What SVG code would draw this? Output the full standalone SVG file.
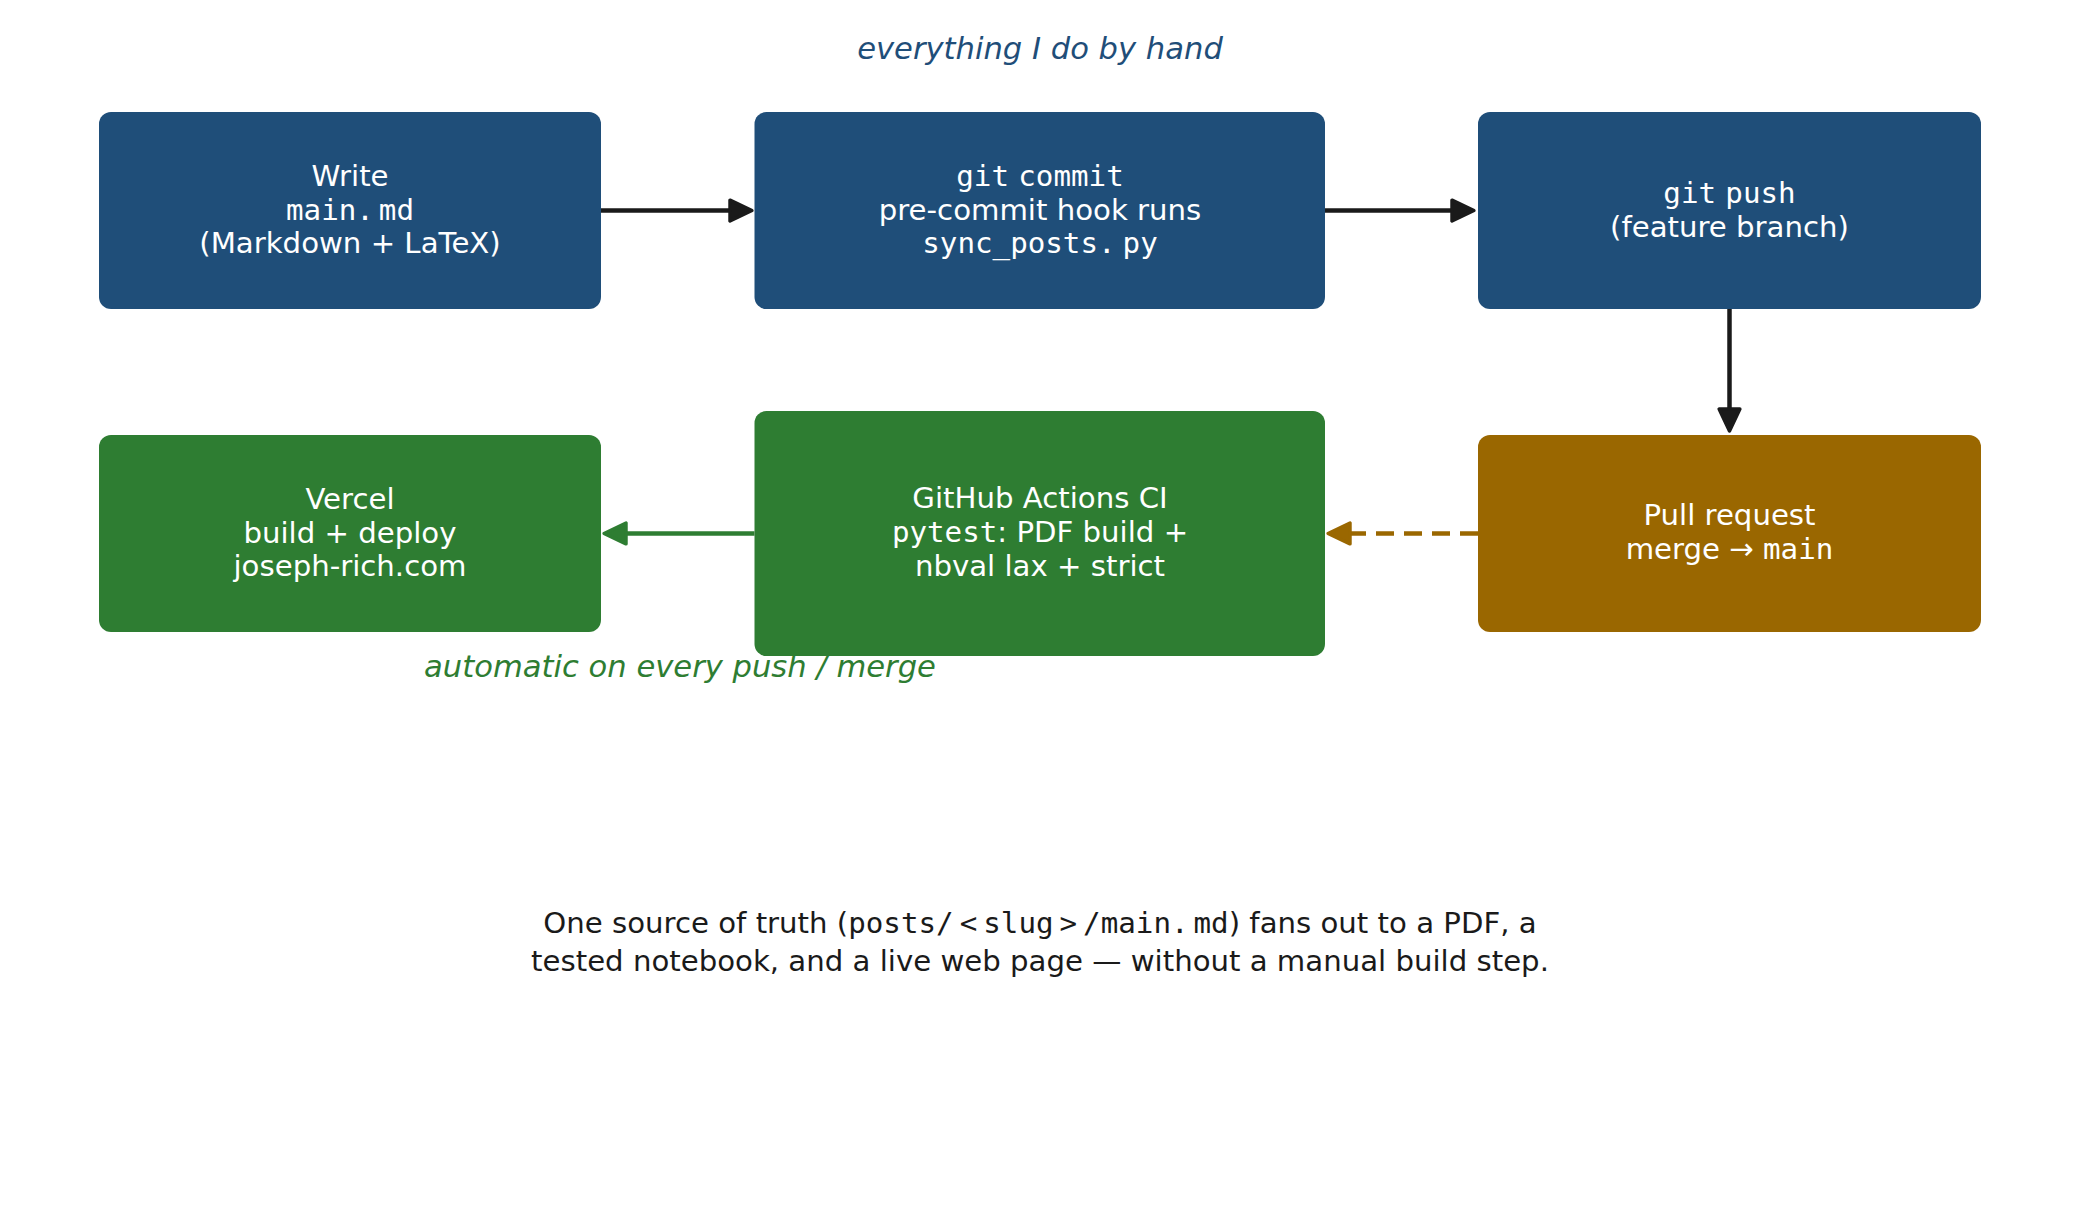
<svg xmlns="http://www.w3.org/2000/svg" width="2079" height="1220" viewBox="0 0 2079 1220">
<style>
  .box-blue { fill: #1f4e79; }
  .box-green { fill: #2e7d32; }
  .box-brown { fill: #9a6700; }
  .lbl { font-family: "DejaVu Sans", sans-serif; font-size: 29.2px; fill: #ffffff; text-anchor: middle; }
  .mono { font-family: "DejaVu Sans Mono", monospace; }
  .title { font-family: "DejaVu Sans", sans-serif; font-size: 30.6px; font-style: italic; text-anchor: middle; }
  .note { font-family: "DejaVu Sans", sans-serif; font-size: 29.2px; fill: #1a1a1a; text-anchor: middle; }
  .edge { fill: none; stroke-width: 4.5; stroke-linecap: butt; }
</style>
<defs>
  <marker id="ah-black" markerUnits="userSpaceOnUse" markerWidth="30" markerHeight="30" refX="0" refY="0" viewBox="-3 -13 26 26" orient="auto" overflow="visible">
    <path d="M0,-9 L19,0 L0,9 Z" fill="#1a1a1a" stroke="#1a1a1a" stroke-width="3" stroke-linejoin="round"/>
  </marker>
  <marker id="ah-green" markerUnits="userSpaceOnUse" markerWidth="30" markerHeight="30" refX="0" refY="0" viewBox="-3 -13 26 26" orient="auto" overflow="visible">
    <path d="M0,-9 L19,0 L0,9 Z" fill="#2e7d32" stroke="#2e7d32" stroke-width="3" stroke-linejoin="round"/>
  </marker>
  <marker id="ah-brown" markerUnits="userSpaceOnUse" markerWidth="30" markerHeight="30" refX="0" refY="0" viewBox="-3 -13 26 26" orient="auto" overflow="visible">
    <path d="M0,-9 L19,0 L0,9 Z" fill="#9a6700" stroke="#9a6700" stroke-width="3" stroke-linejoin="round"/>
  </marker>
</defs>
<rect width="2079" height="1220" fill="#ffffff"/>

<text class="title" x="1040" y="58.5" fill="#1f4e79">everything I do by hand</text>
<text class="title" x="680" y="677" fill="#2e7d32">automatic on every push / merge</text>

<g id="connectors">
  <path class="edge" d="M601,210.5 L730,210.5" stroke="#1a1a1a" marker-end="url(#ah-black)"/>
  <path class="edge" d="M1325,210.5 L1452,210.5" stroke="#1a1a1a" marker-end="url(#ah-black)"/>
  <path class="edge" d="M1729.5,309 L1729.5,409" stroke="#1a1a1a" marker-end="url(#ah-black)"/>
  <path class="edge" d="M754.5,533.5 L626,533.5" stroke="#2e7d32" marker-end="url(#ah-green)"/>
  <path class="edge" d="M1478,533.5 L1350,533.5" stroke="#9a6700" stroke-dasharray="18 10" stroke-linecap="round" marker-end="url(#ah-brown)"/>
</g>

<g id="node-write">
  <rect class="box-blue" x="99" y="112" width="502" height="197" rx="12"/>
  <text class="lbl" x="350" y="186">Write</text>
  <text class="lbl" x="350" y="219.5"><tspan class="mono">main.</tspan><tspan class="mono" dx="5">md</tspan></text>
  <text class="lbl" x="350" y="253">(Markdown + LaTeX)</text>
</g>

<g id="node-commit">
  <rect class="box-blue" x="754.5" y="112" width="570.5" height="197" rx="12"/>
  <text class="lbl" x="1040" y="186"><tspan class="mono">git</tspan> <tspan class="mono">commit</tspan></text>
  <text class="lbl" x="1040" y="219.5">pre-commit hook runs</text>
  <text class="lbl" x="1040" y="253"><tspan class="mono">sync_posts.</tspan><tspan class="mono" dx="7">py</tspan></text>
</g>

<g id="node-push">
  <rect class="box-blue" x="1478" y="112" width="503" height="197" rx="12"/>
  <text class="lbl" x="1729.5" y="202.5"><tspan class="mono">git</tspan> <tspan class="mono">push</tspan></text>
  <text class="lbl" x="1729.5" y="236.5">(feature branch)</text>
</g>

<g id="node-vercel">
  <rect class="box-green" x="99" y="435" width="502" height="197" rx="12"/>
  <text class="lbl" x="350" y="509">Vercel</text>
  <text class="lbl" x="350" y="542.5">build + deploy</text>
  <text class="lbl" x="350" y="576">joseph-rich.com</text>
</g>

<g id="node-ci">
  <rect class="box-green" x="754.5" y="411" width="570.5" height="245" rx="12"/>
  <text class="lbl" x="1040" y="508">GitHub Actions CI</text>
  <text class="lbl" x="1040" y="542"><tspan class="mono">pytest</tspan>: PDF build +</text>
  <text class="lbl" x="1040" y="576">nbval lax + strict</text>
</g>

<g id="node-pr">
  <rect class="box-brown" x="1478" y="435" width="503" height="197" rx="12"/>
  <text class="lbl" x="1729.5" y="524.5">Pull request</text>
  <text class="lbl" x="1729.5" y="559">merge → <tspan class="mono">main</tspan></text>
</g>

<text class="note" x="1040" y="933">One source of truth (<tspan class="mono">posts/</tspan><tspan class="mono" dx="6">&lt;</tspan><tspan class="mono" dx="6">slug</tspan><tspan class="mono" dx="6">&gt;</tspan><tspan class="mono" dx="6">/main.</tspan><tspan class="mono" dx="5">md</tspan>) fans out to a PDF, a</text>
<text class="note" x="1040" y="971">tested notebook, and a live web page — without a manual build step.</text>
</svg>
